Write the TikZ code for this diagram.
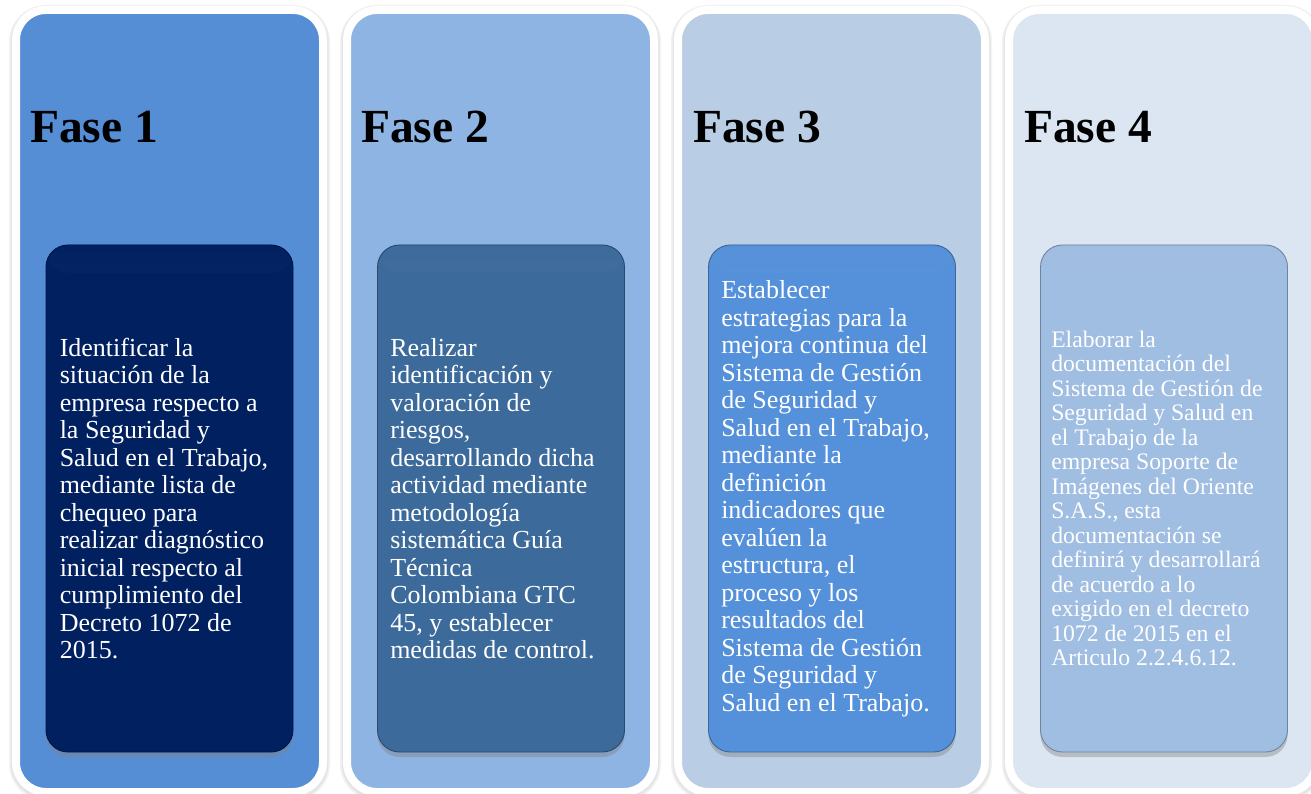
\documentclass[tikz,border=0pt]{standalone}
\usepackage{fontspec}
\setmainfont{Liberation Serif}
\usetikzlibrary{shadows}

\definecolor{fo1}{HTML}{558ED5}
\definecolor{fo2}{HTML}{8EB4E3}
\definecolor{fo3}{HTML}{B9CDE5}
\definecolor{fo4}{HTML}{DCE6F2}
\definecolor{in1}{HTML}{002060}
\definecolor{in2}{HTML}{3C6A9B}
\definecolor{in3}{HTML}{5590DA}
\definecolor{in4}{HTML}{A0BDE2}

\begin{document}
\begin{tikzpicture}[x=1pt, y=-1pt,
        fase/.style={draw=white, line width=8pt, rounded corners=30pt,
            minimum width=307pt, minimum height=782pt, inner sep=0pt,
            preaction={draw=black!5, line width=14pt, transform canvas={yshift=-2pt}},
            preaction={draw=black!10, line width=11pt, transform canvas={yshift=-1.5pt}}},
        tarea/.style={draw=#1!70!black, line width=0.9pt, fill=#1,
            rounded corners=22pt, minimum width=247pt, minimum height=507pt,
            inner sep=0pt,
            drop shadow={shadow xshift=0pt, shadow yshift=-5pt, opacity=0.4},
            path picture={\shade[top color=#1, bottom color=#1!78!white]
                ([yshift=8pt]path picture bounding box.north west) rectangle
                ([yshift=-28pt]path picture bounding box.north east);}},
        titulo/.style={anchor=base west, inner sep=0pt,
            font=\fontsize{47.5}{50}\selectfont\bfseries},
        texto/.style={anchor=west, inner sep=0pt, align=left, text=white,
            font=\fontsize{26}{27.5}\selectfont}]
    \useasboundingbox[fill=white] (0,0) rectangle (1311,794);

    % columnas
    \node[fase, fill=fo1] (f1) at (169.5, 401) {};
    \node[fase, fill=fo2] (f2) at (500.5, 401) {};
    \node[fase, fill=fo3] (f3) at (831.5, 401) {};
    \node[fase, fill=fo4] (f4) at (1162.5, 401) {};

    \node[titulo] (h1) at (30, 143) {Fase 1};
    \node[titulo] (h2) at (361, 143) {Fase 2};
    \node[titulo] (h3) at (693, 143) {Fase 3};
    \node[titulo] (h4) at (1024, 143) {Fase 4};

    % cajas interiores
    \node[tarea=in1] (i1) at (169.5, 498.5) {};
    \node[tarea=in2] (i2) at (501, 498.5) {};
    \node[tarea=in3] (i3) at (832, 498.5) {};
    \node[tarea=in4] (i4) at (1164, 498.5) {};

    \node[texto] (t1) at ([xshift=14pt]i1.west) {Identificar la\\
        situación de la\\ empresa respecto a\\ la Seguridad y\\
        Salud en el Trabajo,\\ mediante lista de\\ chequeo para\\
        realizar diagnóstico\\ inicial respecto al\\ cumplimiento del\\
        Decreto 1072 de\\ 2015.};
    \node[texto] (t2) at ([xshift=13pt]i2.west) {Realizar\\
        identificación y\\ valoración de\\ riesgos,\\
        desarrollando dicha\\ actividad mediante\\ metodología\\
        sistemática Guía\\ Técnica\\ Colombiana GTC\\
        45, y establecer\\ medidas de control.};
    \node[texto] (t3) at ([xshift=13pt]i3.west) {Establecer\\
        estrategias para la\\ mejora continua del\\ Sistema de Gestión\\
        de Seguridad y\\ Salud en el Trabajo,\\ mediante la\\ definición\\
        indicadores que\\ evalúen la\\ estructura, el\\ proceso y los\\
        resultados del\\ Sistema de Gestión\\ de Seguridad y\\
        Salud en el Trabajo.};
    \node[texto, font=\fontsize{23.7}{24.5}\selectfont] (t4) at ([xshift=11pt]i4.west) {Elaborar la\\
        documentación del\\ Sistema de Gestión de\\ Seguridad y Salud en\\
        el Trabajo de la\\ empresa Soporte de\\ Imágenes del Oriente\\
        S.A.S., esta\\ documentación se\\ definirá y desarrollará\\
        de acuerdo a lo\\ exigido en el decreto\\ 1072 de 2015 en el\\
        Articulo 2.2.4.6.12.};
\end{tikzpicture}
\end{document}
